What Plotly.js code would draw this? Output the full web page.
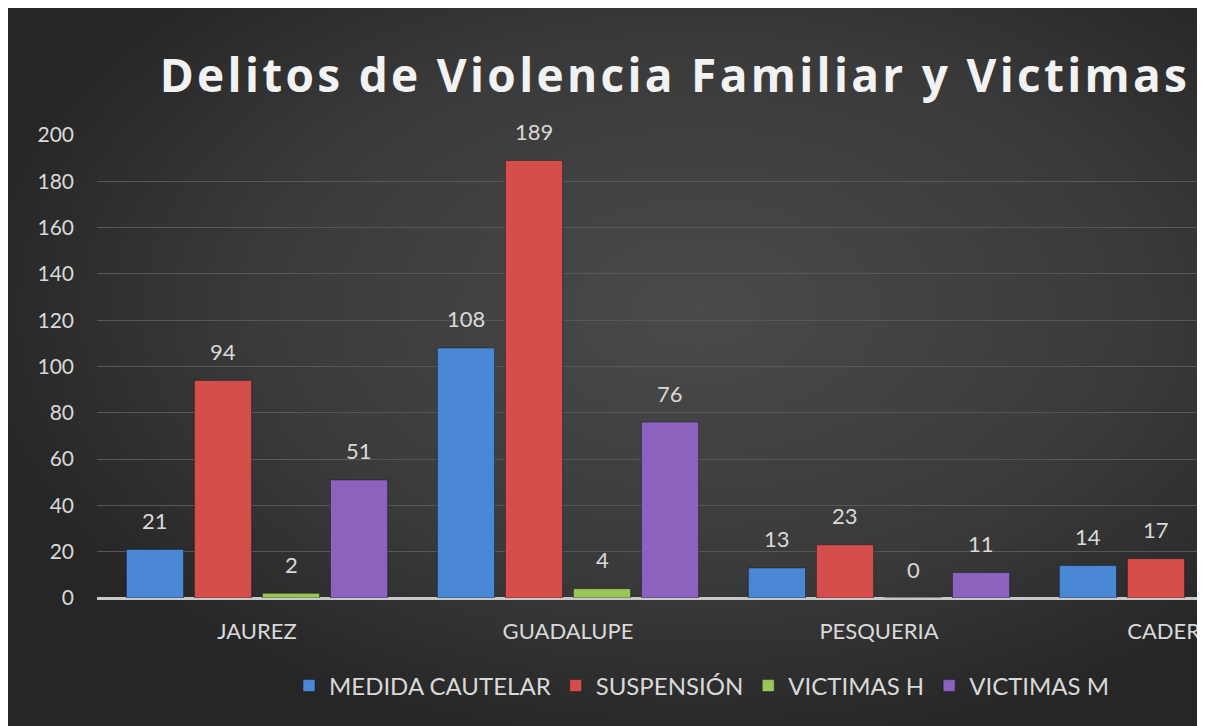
<!DOCTYPE html>
<html>
<head>
<meta charset="utf-8">
<script src="https://cdn.plot.ly/plotly-3.0.1.min.js"></script>
<style>html,body{margin:0;padding:0;background:#fff;}#chart{width:1206px;height:726px;}</style>
</head>
<body>
<div id="chart"></div>
<script>
const categories = ["JAUREZ", "GUADALUPE", "PESQUERIA", "CADEREYTA"];
const seriesNames = ["MEDIDA CAUTELAR", "SUSPENSIÓN", "VICTIMAS H", "VICTIMAS M"];
const medidaCautelar = [21, 108, 13, 14];
const suspension = [94, 189, 23, 17];
const victimasH = [2, 4, 0, null];
const victimasM = [51, 76, 11, null];
const yTicks = [0, 20, 40, 60, 80, 100, 120, 140, 160, 180, 200];
const titleText = "Delitos de Violencia Familiar y Victimas";

const seriesValues = [medidaCautelar, suspension, victimasH, victimasM];
const colors = ["#4a88d6", "#d44e4b", "#9ac657", "#8c62bf"];
const labelColor = "#d9d9d9";
const fontFam = "Lato, 'Open Sans', sans-serif";

const bargap = 0.125, bargroupgap = 0.16;

const traces = seriesValues.map((vals, j) => ({
  type: "bar",
  name: seriesNames[j],
  x: categories,
  y: vals,
  marker: {color: colors[j], line: {color: "rgba(20,20,30,0.45)", width: 1}},
  hoverinfo: "x+y+name",
  cliponaxis: true
}));

// data labels placed through the category axis
const annotations = [];
const nT = seriesValues.length;
const slot = (1 - bargap) / nT;
seriesValues.forEach((vals, j) => {
  const off = -(1 - bargap) / 2 + (j + 0.5) * slot;
  vals.forEach((v, i) => {
    if (v === null || v === undefined) return;
    const xpos = i + off;
    if (xpos > 3.0) return;
    annotations.push({
      x: xpos, y: v, xref: "x", yref: "y",
      text: String(v), showarrow: false,
      yanchor: "middle", yshift: 29,
      font: {family: fontFam, size: 22, color: labelColor}
    });
  });
});

const bgSvg = '<svg xmlns="http://www.w3.org/2000/svg" width="1189" height="718" viewBox="0 0 1189 718">' +
  '<defs><radialGradient id="g" cx="0.58" cy="0.42" r="0.62" gradientUnits="objectBoundingBox">' +
  '<stop offset="0" stop-color="#4a4a4a"/><stop offset="0.6" stop-color="#3a3a3a"/><stop offset="1" stop-color="#262626"/></radialGradient></defs>' +
  '<rect width="1189" height="718" fill="url(#g)"/></svg>';
const bgUri = "data:image/svg+xml;charset=utf-8," + encodeURIComponent(bgSvg);

const L = 97, R = 1197, T = 135, B = 598, W = 1206, H = 726;
const pw = R - L, ph = B - T;

const layout = {
  width: W, height: H,
  paper_bgcolor: "#ffffff",
  plot_bgcolor: "rgba(0,0,0,0)",
  margin: {l: L, r: W - R, t: T, b: H - B, pad: 0},
  barmode: "group",
  bargap: bargap,
  bargroupgap: bargroupgap,
  title: {
    text: "<b>" + titleText + "</b>",
    font: {family: "'Open Sans', sans-serif", size: 46, color: "#f2f2f2"},
    xref: "container", yref: "container",
    x: 675 / W, xanchor: "center",
    y: 1 - 76 / H, yanchor: "middle"
  },
  xaxis: {
    type: "category",
    range: [-0.5145, 3.0225],
    showgrid: false, zeroline: false, showline: false,
    ticks: "",
    tickfont: {family: fontFam, size: 22, color: labelColor},
    ticklabelstandoff: 18,
    fixedrange: true
  },
  yaxis: {
    range: [0, 200],
    tickvals: yTicks,
    ticktext: yTicks.map(String),
    showgrid: true, gridcolor: "#575757", gridwidth: 1,
    zeroline: true, zerolinecolor: "#c8c8c8", zerolinewidth: 3,
    showline: false, ticks: "",
    tickfont: {family: fontFam, size: 21, color: labelColor},
    ticklabelstandoff: 22,
    fixedrange: true
  },
  legend: {
    orientation: "h",
    xref: "container", yref: "container",
    x: 702 / W, xanchor: "center",
    y: 1 - 686 / H, yanchor: "middle",
    font: {family: fontFam, size: 24, color: labelColor},
    bgcolor: "rgba(0,0,0,0)",
    traceorder: "normal"
  },
  images: [{
    source: bgUri, xref: "paper", yref: "paper",
    x: (8 - L) / pw, y: (B - 8) / ph,
    sizex: 1189 / pw, sizey: 718 / ph,
    xanchor: "left", yanchor: "top",
    sizing: "stretch", layer: "below"
  }],
  shapes: [{
    type: "rect", xref: "paper", yref: "paper", layer: "above",
    x0: 1, x1: (W - L + 20) / pw, y0: -(H - B + 20) / ph, y1: (B + 20) / ph,
    fillcolor: "#ffffff", line: {width: 0}
  }],
  annotations: annotations,
  showlegend: true
};

Plotly.newPlot("chart", traces, layout, {displayModeBar: false, staticPlot: true}).then(gd => {
  const t = gd.querySelector(".g-gtitle text, .gtitle");
  if (t) t.style.letterSpacing = "3.3px";
});
</script>
</body>
</html>
